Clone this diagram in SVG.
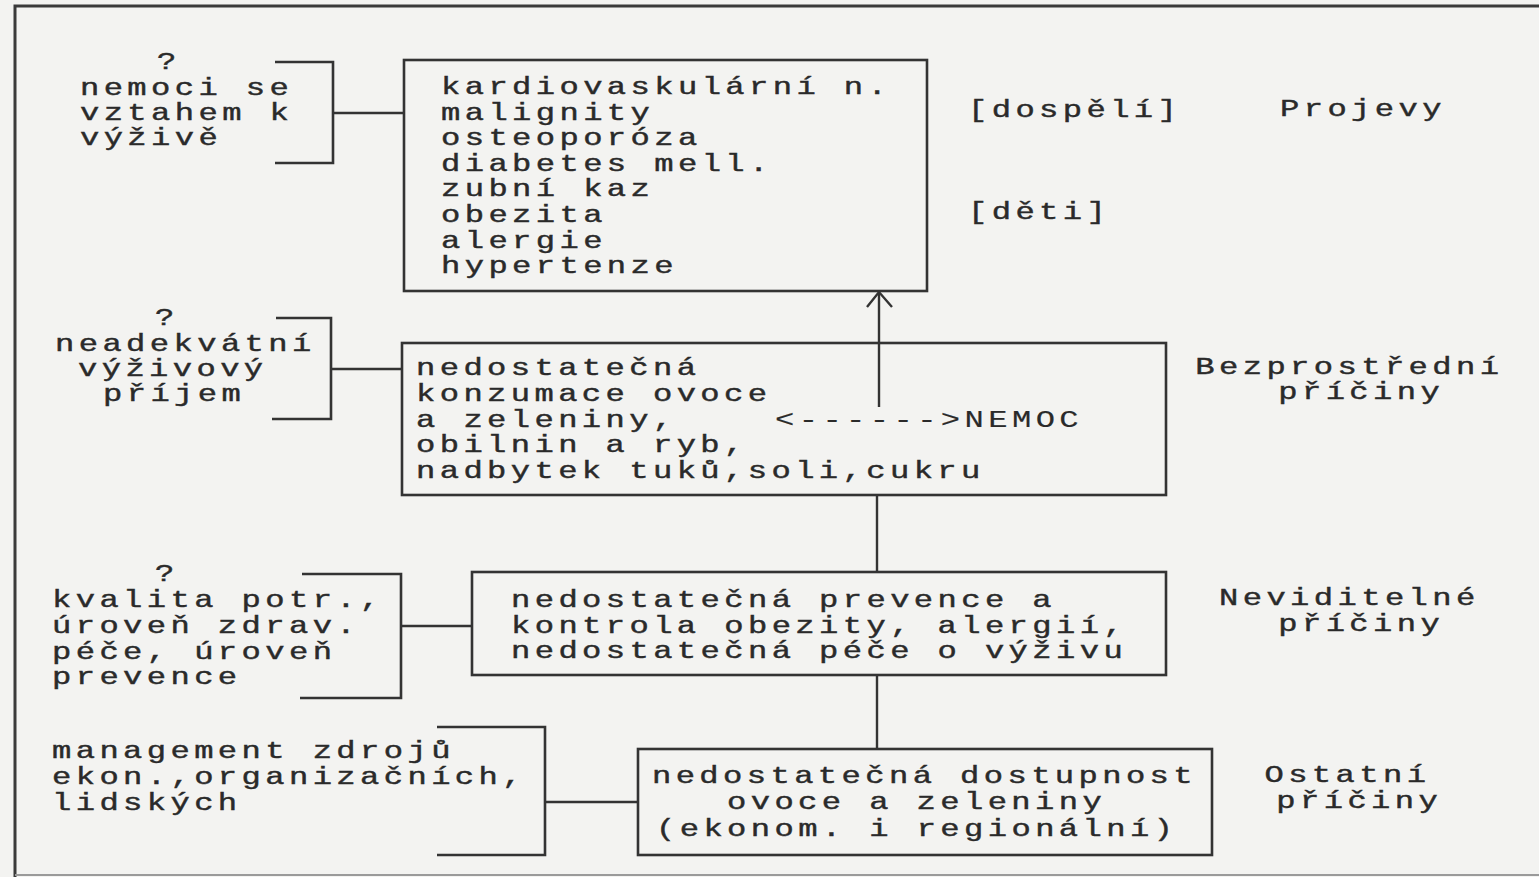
<svg xmlns="http://www.w3.org/2000/svg" width="1539" height="877" viewBox="0 0 1539 877">
<style>
.bg{fill:#f3f3f1}
.frame{fill:none;stroke:#3a3a3a;stroke-width:3}
.box{fill:none;stroke:#333;stroke-width:2.6}
.br{fill:none;stroke:#333;stroke-width:2.6}
.ln{fill:none;stroke:#333;stroke-width:2.4}
.t{font-family:"Liberation Mono","Courier New",monospace;font-size:23px;letter-spacing:3.13px;fill:#2a2a2a;stroke:#2a2a2a;stroke-width:0.4}
.c{text-anchor:middle}
</style>
<rect class="bg" x="0" y="0" width="1539" height="877"/>
<path class="frame" d="M1539,6 H15 V877"/>
<path d="M15,875 H1539" fill="none" stroke="#9a9a9a" stroke-width="2"/>

<g id="connectors">
  <path class="ln" d="M333,113 H404"/>
  <path class="ln" d="M331,369 H402"/>
  <path class="ln" d="M401,626 H472"/>
  <path class="ln" d="M545,802 H638"/>
  <path class="ln" d="M879,407 V293"/>
  <path class="ln" d="M867,307 L879,292 L892,307"/>
  <path class="ln" d="M877,495 V572"/>
  <path class="ln" d="M877,675 V749"/>
</g>

<g id="q1">
  <path class="br" d="M275,62 H333 V163 H275"/>
  <text class="t" transform="scale(1.4,1)">
    <tspan x="112.14" y="69">?</tspan>
    <tspan x="57.14" y="95">nemoci se</tspan>
    <tspan x="57.14" y="120">vztahem k</tspan>
    <tspan x="57.14" y="145">výživě</tspan>
  </text>
</g>

<g id="box1">
  <rect class="box" x="404" y="60" width="523" height="231"/>
  <text class="t" transform="scale(1.4,1)">
    <tspan x="315" y="94">kardiovaskulární n.</tspan>
    <tspan x="315" y="119.6">malignity</tspan>
    <tspan x="315" y="145.2">osteoporóza</tspan>
    <tspan x="315" y="170.8">diabetes mell.</tspan>
    <tspan x="315" y="196.4">zubní kaz</tspan>
    <tspan x="315" y="222">obezita</tspan>
    <tspan x="315" y="247.6">alergie</tspan>
    <tspan x="315" y="273.2">hypertenze</tspan>
  </text>
</g>

<g id="label-dospeli">
  <text class="t" transform="scale(1.4,1)"><tspan x="691.43" y="117">[dospělí]</tspan></text>
</g>
<g id="label-deti">
  <text class="t" transform="scale(1.4,1)"><tspan x="691.43" y="219">[děti]</tspan></text>
</g>
<g id="label-projevy">
  <text class="t" transform="scale(1.4,1)"><tspan x="914.29" y="116">Projevy</tspan></text>
</g>

<g id="q2">
  <path class="br" d="M276,318 H331 V419 H272"/>
  <text class="t" transform="scale(1.4,1)">
    <tspan x="110.71" y="325">?</tspan>
    <tspan x="39.29" y="351">neadekvátní</tspan>
    <tspan x="55.71" y="376">výživový</tspan>
    <tspan x="73.57" y="401">příjem</tspan>
  </text>
</g>

<g id="box2">
  <rect class="box" x="402" y="343" width="764" height="152"/>
  <text class="t" transform="scale(1.4,1)">
    <tspan x="297.14" y="375">nedostatečná</tspan>
    <tspan x="297.14" y="401">konzumace ovoce</tspan>
    <tspan x="297.14" y="427">a zeleniny,</tspan>
    <tspan x="297.14" y="452">obilnin a ryb,</tspan>
    <tspan x="297.14" y="478">nadbytek tuků,soli,cukru</tspan>
  </text>
  <text class="t" transform="scale(1.4,1)" style="stroke-width:0.15"><tspan x="553.57" y="427">&lt;------&gt;NEMOC</tspan></text>
</g>

<g id="label-bezprostredni">
  <text class="t c" transform="scale(1.4,1)">
    <tspan x="972.3" y="374">Bezprostřední</tspan>
    <tspan x="972.3" y="399">příčiny</tspan>
  </text>
</g>

<g id="q3">
  <path class="br" d="M302,574 H401 V698 H300"/>
  <text class="t" transform="scale(1.4,1)">
    <tspan x="110.71" y="581">?</tspan>
    <tspan x="37.14" y="607">kvalita potr.,</tspan>
    <tspan x="37.14" y="633">úroveň zdrav.</tspan>
    <tspan x="37.14" y="659">péče, úroveň</tspan>
    <tspan x="37.14" y="684">prevence</tspan>
  </text>
</g>

<g id="box3">
  <rect class="box" x="472" y="572" width="694" height="103"/>
  <text class="t" transform="scale(1.4,1)">
    <tspan x="365" y="607">nedostatečná prevence a</tspan>
    <tspan x="365" y="633">kontrola obezity, alergií,</tspan>
    <tspan x="365" y="658">nedostatečná péče o výživu</tspan>
  </text>
</g>

<g id="label-neviditelne">
  <text class="t c" transform="scale(1.4,1)">
    <tspan x="972.3" y="605">Neviditelné</tspan>
    <tspan x="972.3" y="631">příčiny</tspan>
  </text>
</g>

<g id="q4">
  <path class="br" d="M437,727 H545 V855 H437"/>
  <text class="t" transform="scale(1.4,1)">
    <tspan x="37.14" y="758">management zdrojů</tspan>
    <tspan x="37.14" y="784">ekon.,organizačních,</tspan>
    <tspan x="37.14" y="810">lidských</tspan>
  </text>
</g>

<g id="box4">
  <rect class="box" x="638" y="749" width="574" height="106"/>
  <text class="t" transform="scale(1.4,1)">
    <tspan x="465.71" y="783">nedostatečná dostupnost</tspan>
    <tspan x="519.29" y="809">ovoce a zeleniny</tspan>
    <tspan x="468.57" y="836">(ekonom. i regionální)</tspan>
  </text>
</g>

<g id="label-ostatni">
  <text class="t c" transform="scale(1.4,1)">
    <tspan x="970.9" y="782">Ostatní</tspan>
    <tspan x="970.9" y="808">příčiny</tspan>
  </text>
</g>
</svg>
